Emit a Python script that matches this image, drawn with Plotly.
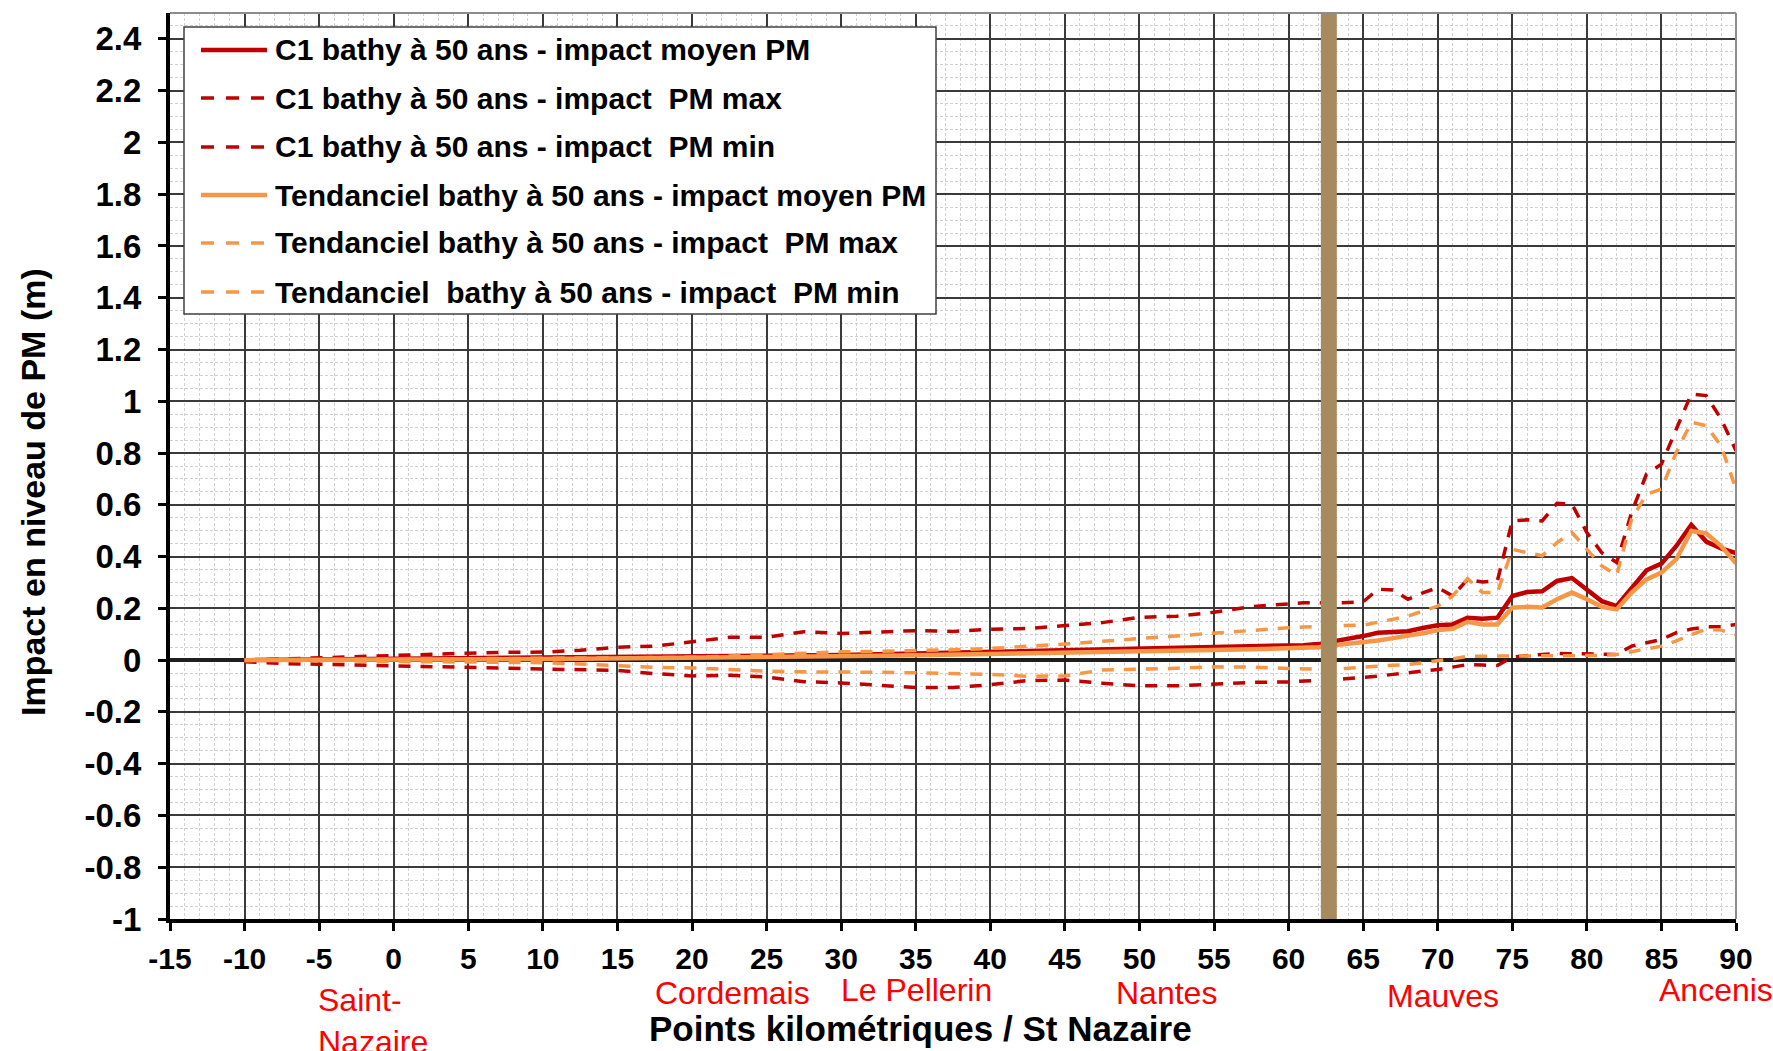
import plotly.graph_objects as go

# ---------------- data ----------------
pk = [-10, -7.5, -5, -2.5, 0, 2.5, 5, 7.5, 10, 12.5, 15, 17.5, 20, 22.5, 25, 27.5,
      30, 32.5, 35, 37.5, 40, 42.5, 45, 47.5, 50, 52.5, 55, 57.5, 60,
      61, 62, 63, 64, 65, 66, 67, 68, 69, 70, 71, 72, 73, 74, 75, 76, 77, 78, 79,
      80, 81, 82, 83, 84, 85, 86, 87, 88, 89, 90]

c1_moyen = [0.000, 0.001, 0.002, 0.003, 0.004, 0.005, 0.006, 0.007, 0.008, 0.009, 0.010, 0.011,
            0.013, 0.015, 0.017, 0.018, 0.020, 0.023, 0.026, 0.028, 0.030, 0.032, 0.035, 0.038,
            0.041, 0.045, 0.048, 0.051, 0.055,
            0.058, 0.062, 0.071, 0.082, 0.093, 0.106, 0.110, 0.112, 0.124, 0.135, 0.138, 0.164,
            0.160, 0.164, 0.248, 0.263, 0.266, 0.306, 0.317, 0.274, 0.228, 0.209, 0.280, 0.347,
            0.373, 0.441, 0.523, 0.458, 0.432, 0.413]

c1_max = [0.000, 0.005, 0.008, 0.013, 0.018, 0.023, 0.027, 0.030, 0.031, 0.038, 0.050, 0.054,
          0.070, 0.088, 0.088, 0.110, 0.103, 0.107, 0.114, 0.111, 0.119, 0.122, 0.135, 0.145,
          0.165, 0.170, 0.185, 0.207, 0.217,
          0.222, 0.222, 0.220, 0.223, 0.225, 0.274, 0.271, 0.235, 0.260, 0.280, 0.248, 0.312,
          0.302, 0.306, 0.538, 0.542, 0.538, 0.606, 0.603, 0.493, 0.415, 0.377, 0.570, 0.719,
          0.757, 0.893, 1.028, 1.022, 0.932, 0.809]

c1_min = [-0.006, -0.013, -0.016, -0.019, -0.023, -0.026, -0.028, -0.030, -0.032, -0.035, -0.040,
          -0.052, -0.061, -0.058, -0.065, -0.083, -0.088, -0.097, -0.106, -0.106, -0.095, -0.079,
          -0.077, -0.089, -0.099, -0.099, -0.093, -0.086, -0.084,
          -0.082, -0.078, -0.075, -0.071, -0.068, -0.062, -0.055, -0.049, -0.042, -0.036, -0.027,
          -0.017, -0.019, -0.021, 0.012, 0.018, 0.022, 0.026, 0.026, 0.025, 0.023, 0.022, 0.054,
          0.067, 0.080, 0.106, 0.120, 0.129, 0.129, 0.138]

tend_moyen = [0.000, 0.000, 0.001, 0.001, 0.002, 0.002, 0.003, 0.003, 0.004, 0.005, 0.006, 0.007,
              0.008, 0.010, 0.012, 0.013, 0.015, 0.017, 0.019, 0.021, 0.023, 0.025, 0.028, 0.030,
              0.033, 0.036, 0.039, 0.042, 0.045,
              0.048, 0.050, 0.057, 0.062, 0.067, 0.076, 0.085, 0.093, 0.104, 0.116, 0.121, 0.148,
              0.138, 0.138, 0.203, 0.206, 0.203, 0.235, 0.261, 0.235, 0.206, 0.196, 0.261, 0.312,
              0.338, 0.390, 0.499, 0.490, 0.441, 0.374]

tend_max = [0.000, 0.001, 0.002, 0.002, 0.003, 0.003, 0.004, 0.004, 0.005, 0.006, 0.007, 0.009,
            0.011, 0.016, 0.022, 0.027, 0.032, 0.034, 0.036, 0.040, 0.045, 0.052, 0.062, 0.073,
            0.084, 0.095, 0.106, 0.116, 0.125,
            0.128, 0.131, 0.133, 0.134, 0.135, 0.145, 0.158, 0.170, 0.190, 0.209, 0.248, 0.315,
            0.261, 0.261, 0.428, 0.415, 0.403, 0.454, 0.493, 0.428, 0.364, 0.328, 0.545, 0.641,
            0.661, 0.803, 0.919, 0.906, 0.828, 0.661]

tend_min = [0.000, -0.002, -0.003, -0.004, -0.005, -0.006, -0.007, -0.008, -0.010, -0.015, -0.022,
            -0.028, -0.030, -0.037, -0.043, -0.045, -0.045, -0.047, -0.049, -0.052, -0.055, -0.062,
            -0.061, -0.038, -0.036, -0.031, -0.026, -0.027, -0.032,
            -0.034, -0.035, -0.036, -0.031, -0.026, -0.023, -0.020, -0.017, -0.010, -0.004, 0.005,
            0.015, 0.015, 0.015, 0.015, 0.015, 0.015, 0.015, 0.015, 0.015, 0.018, 0.022, 0.033,
            0.044, 0.054, 0.074, 0.099, 0.119, 0.116, 0.099]

series_names = [
    "C1 bathy à 50 ans - impact moyen PM",
    "C1 bathy à 50 ans - impact \u00a0PM max",
    "C1 bathy à 50 ans - impact \u00a0PM min",
    "Tendanciel bathy à 50 ans - impact moyen PM",
    "Tendanciel bathy à 50 ans - impact \u00a0PM max",
    "Tendanciel \u00a0bathy à 50 ans - impact \u00a0PM min",
]

x_tick_vals = [-15, -10, -5, 0, 5, 10, 15, 20, 25, 30, 35, 40, 45, 50, 55, 60, 65, 70, 75, 80, 85, 90]
x_tick_text = ["-15", "-10", "-5", "0", "5", "10", "15", "20", "25", "30", "35", "40", "45",
               "50", "55", "60", "65", "70", "75", "80", "85", "90"]
y_tick_vals = [-1, -0.8, -0.6, -0.4, -0.2, 0, 0.2, 0.4, 0.6, 0.8, 1, 1.2, 1.4, 1.6, 1.8, 2, 2.2, 2.4]
y_tick_text = ["-1", "-0.8", "-0.6", "-0.4", "-0.2", "0", "0.2", "0.4", "0.6", "0.8", "1", "1.2",
               "1.4", "1.6", "1.8", "2", "2.2", "2.4"]

place_names = ["Saint-<br>Nazaire", "Cordemais", "Le Pellerin", "Nantes", "Mauves", "Ancenis"]
place_pk = [-5.2, 22.7, 35.05, 51.8, 70.35, 88.65]

limit_pk = 62.7

# ---------------- styles ----------------
RED = "#C00000"
ORANGE = "#F79646"
FONT = "Liberation Sans, Arial, sans-serif"
DASH = "12px,10px"

series_values = [c1_moyen, c1_max, c1_min, tend_moyen, tend_max, tend_min]
series_colors = [RED, RED, RED, ORANGE, ORANGE, ORANGE]
series_dash = ["solid", DASH, DASH, "solid", DASH, DASH]
series_width = [4.5, 3.5, 3.5, 4.5, 3.5, 3.5]

fig = go.Figure()
for name, vals, col, dsh, w in zip(series_names, series_values, series_colors, series_dash, series_width):
    fig.add_trace(go.Scatter(x=pk, y=vals, mode="lines", name=name,
                             line=dict(color=col, width=w, dash=dsh), showlegend=False))

shapes = []
# vertical limit bar
shapes.append(dict(type="line", xref="x", yref="y", x0=limit_pk, x1=limit_pk, y0=-1, y1=2.5,
                   line=dict(color="#A68B5E", width=16), layer="above"))
# top/right frame
shapes.append(dict(type="line", xref="paper", yref="paper", x0=0, x1=1, y0=1, y1=1,
                   line=dict(color="#8c8c8c", width=2), layer="above"))
shapes.append(dict(type="line", xref="paper", yref="paper", x0=1, x1=1, y0=0, y1=1,
                   line=dict(color="#8c8c8c", width=2), layer="above"))

# manual legend
W, H = 1566.0, 906.0
def px(xp):
    return (xp - 170) / W
def py(yp):
    return (919 - yp) / H

shapes.append(dict(type="rect", xref="paper", yref="paper", x0=px(184), x1=px(936), y0=py(314), y1=py(27),
                   fillcolor="white", line=dict(color="#404040", width=1.5), layer="above"))
annotations = []
row_y = [50, 98, 147, 195, 243, 292]
for i, (name, col, dsh, w) in enumerate(zip(series_names, series_colors, series_dash, series_width)):
    yy = py(row_y[i])
    shapes.append(dict(type="line", xref="paper", yref="paper", x0=px(201), x1=px(267), y0=yy, y1=yy,
                       line=dict(color=col, width=w, dash=("solid" if dsh == "solid" else "13px,12px")),
                       layer="above"))
    annotations.append(dict(xref="paper", yref="paper", x=px(273), y=yy, xanchor="left", yanchor="middle",
                            text="<b>" + name + "</b>", showarrow=False,
                            font=dict(family=FONT, size=30, color="black")))

# place labels
place_y = [-0.1126, -0.0817, -0.0789, -0.0817, -0.085, -0.0789]
for nm, xv, yv in zip(place_names, place_pk, place_y):
    annotations.append(dict(xref="x", yref="paper", x=xv, y=yv,
                            xanchor=("left" if "<br>" in nm else "center"), yanchor="middle",
                            align="left", text=nm, showarrow=False,
                            font=dict(family=FONT, size=32, color="#FF0000")))

# axis titles
annotations.append(dict(xref="paper", yref="paper", x=px(920.6), y=py(1028), xanchor="center", yanchor="middle",
                        text="<b>Points kilométriques / St Nazaire</b>", showarrow=False,
                        font=dict(family=FONT, size=35, color="black")))
annotations.append(dict(xref="paper", yref="paper", x=px(33), y=py(492), xanchor="center", yanchor="middle",
                        text="<b>Impact en niveau de PM (m)</b>", textangle=-90, showarrow=False,
                        font=dict(family=FONT, size=34, color="black")))

fig.update_layout(
    width=1773, height=1051,
    margin=dict(l=170, r=37, t=13, b=132),
    paper_bgcolor="white", plot_bgcolor="white",
    font=dict(family=FONT, color="black"),
    shapes=shapes, annotations=annotations,
    showlegend=False,
)

fig.update_xaxes(
    range=[-15, 90], tickmode="array", tickvals=x_tick_vals, ticktext=x_tick_text,
    tickfont=dict(family=FONT, size=30, color="black", weight="bold"),
    showline=True, linecolor="black", linewidth=4,
    ticks="outside", ticklen=8, tickwidth=3, tickcolor="black",
    ticklabelstandoff=2,
    showgrid=True, gridcolor="#3a3a3a", gridwidth=1.5,
    zeroline=False,
    minor=dict(tickmode="linear", tick0=-15, dtick=1, showgrid=True, gridcolor="#d0d0d0",
               griddash="3px,2px", gridwidth=1, ticks=""),
)
fig.update_yaxes(
    range=[-1, 2.5], tickmode="array", tickvals=y_tick_vals, ticktext=y_tick_text,
    tickfont=dict(family=FONT, size=33, color="black", weight="bold"),
    showline=True, linecolor="black", linewidth=4,
    ticks="outside", ticklen=8, tickwidth=3, tickcolor="black",
    ticklabelstandoff=10,
    showgrid=True, gridcolor="#3a3a3a", gridwidth=1.5,
    zeroline=True, zerolinecolor="#1e1e1e", zerolinewidth=4,
    minor=dict(tickmode="linear", tick0=0, dtick=0.05, showgrid=True, gridcolor="#d0d0d0",
               griddash="3px,2px", gridwidth=1, ticks=""),
)

fig.write_html("out.html")
